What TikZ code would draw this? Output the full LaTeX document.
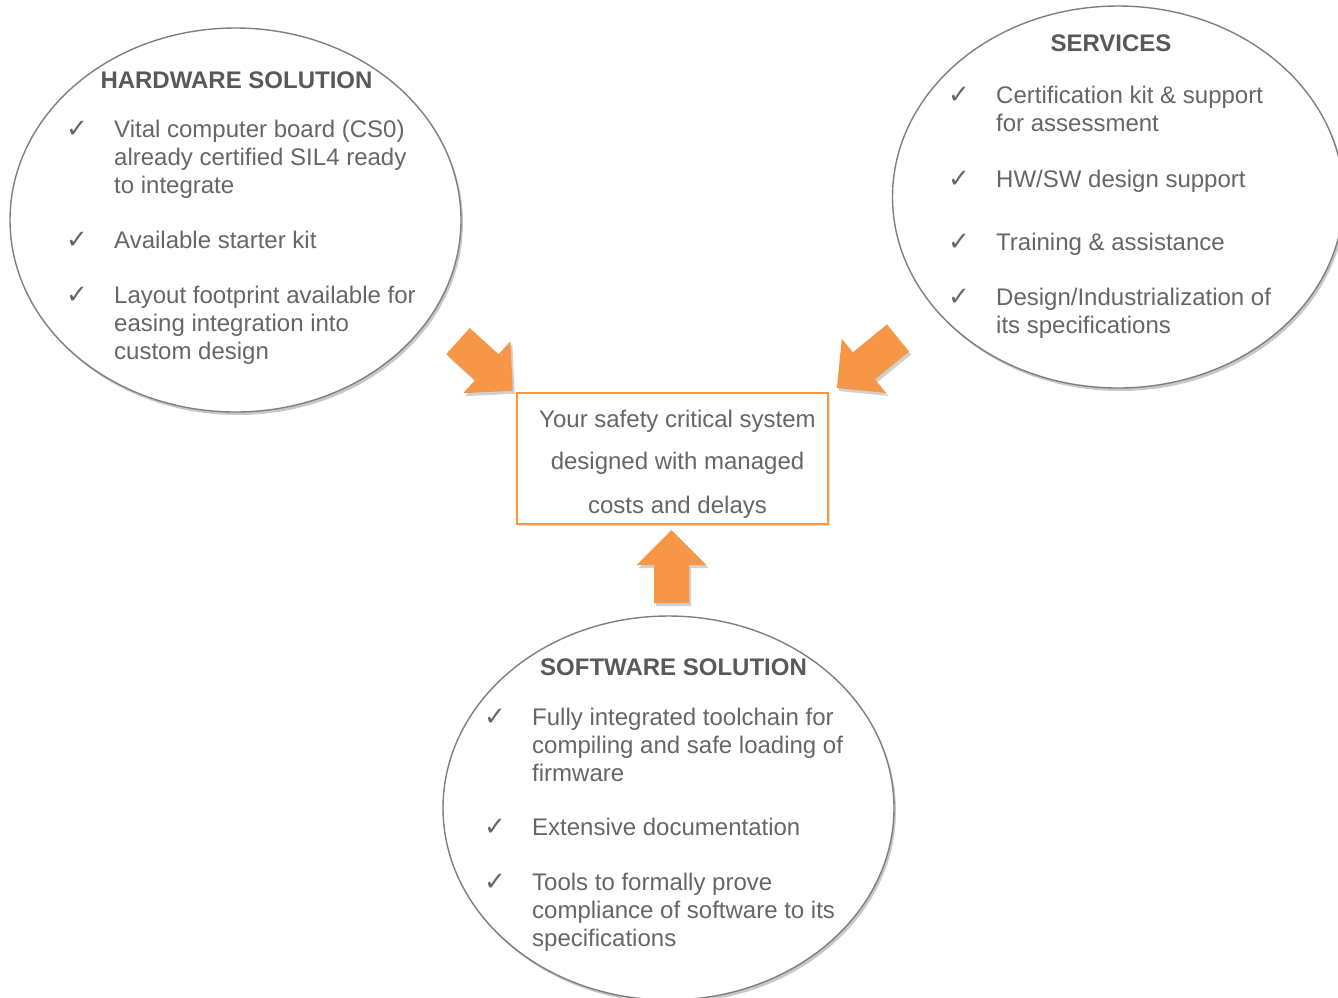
\documentclass[tikz,border=0pt]{standalone}
\usepackage{fontspec}
\setmainfont{Liberation Sans}
\newfontfamily\symfont{DejaVu Sans}
\usetikzlibrary{shapes.geometric,shadows}
\definecolor{txt}{HTML}{666666}
\definecolor{ttl}{HTML}{595959}
\definecolor{edge}{HTML}{7F7F7F}
\definecolor{orng}{HTML}{F79646}
\tikzset{
  bubble/.style={ellipse, draw=edge, line width=1.4pt, fill=white, inner sep=0pt,
    minimum width=451pt, minimum height=384pt,
    drop shadow={shadow xshift=2pt, shadow yshift=-3pt, opacity=0.3, fill=black!70}},
  ttlbox/.style={anchor=base, inner sep=0pt, font=\fontsize{24}{28}\selectfont\bfseries, text=ttl},
  tick/.style={anchor=base west, inner sep=0pt, font=\symfont\fontsize{26}{28}\selectfont, text=txt},
  item/.style={anchor=base west, inner sep=0pt, align=left, font=\fontsize{24}{28}\selectfont, text=txt},
  goalbox/.style={draw=orng, line width=2pt, fill=white, inner sep=0pt,
    minimum width=311pt, minimum height=131pt,
    drop shadow={shadow xshift=2pt, shadow yshift=-2pt, opacity=0.2, fill=black!60}},
  goaltext/.style={anchor=base, inner sep=0pt, font=\fontsize{24}{28}\selectfont, text=txt},
  blk/.style={fill=orng, drop shadow={shadow xshift=2pt, shadow yshift=-3pt, opacity=0.3, fill=black!60}},
}
\newcommand\blockarrow[3]{%
  \begin{scope}[shift={(#1)}, rotate=#2]
    \fill[blk] (0,-17.5) -- ({#3-35},-17.5) -- ({#3-35},-35) -- (#3,0)
      -- ({#3-35},35) -- ({#3-35},17.5) -- (0,17.5) -- cycle;
  \end{scope}}
\begin{document}
\begin{tikzpicture}[x=1pt,y=-1pt]
\useasboundingbox (0,0) rectangle (1338,997);
\clip (0,0) rectangle (1338,997);
\fill[white] (0,0) rectangle (1338,997);

% bubbles
\node[bubble] (hw) at (235.5,220) {};
\node[bubble, minimum height=382pt] (sv) at (1118,197) {};
\node[bubble] (sw) at (668.5,808) {};

% arrows
\coordinate (hwtail) at (458,341);
\coordinate (svtail) at (898,338);
\coordinate (swtail) at (671.5,603);
\blockarrow{hwtail}{-42.3}{74}
\blockarrow{svtail}{-140.7}{79}
\blockarrow{swtail}{90}{73}

% goal
\node[goalbox] (goal) at (672.5,458.5) {};
\node[goaltext] (g1) at (677.5,427) {Your safety critical system};
\node[goaltext] (g2) at (677.5,469) {designed with managed};
\node[goaltext] (g3) at (677.5,513) {costs and delays};

% hardware (multi-line nodes: base = baseline of last line)
\node[ttlbox] (hwt) at (236.5,88) {HARDWARE SOLUTION};
\node[tick] (hwc1) at (66,137) {✓};
\node[item] (hwi1) at (114,193) {Vital computer board (CS0)\\already certified SIL4 ready\\to integrate};
\node[tick] (hwc2) at (66,248) {✓};
\node[item] (hwi2) at (114,248) {Available starter kit};
\node[tick] (hwc3) at (66,303) {✓};
\node[item] (hwi3) at (114,359) {Layout footprint available for\\easing integration into\\custom design};

% services
\node[ttlbox] (svt) at (1111,51) {SERVICES};
\node[tick] (svc1) at (948,103) {✓};
\node[item] (svi1) at (996,131) {Certification kit \& support\\for assessment};
\node[tick] (svc2) at (948,187) {✓};
\node[item] (svi2) at (996,187) {HW/SW design support};
\node[tick] (svc3) at (948,250) {✓};
\node[item] (svi3) at (996,250) {Training \& assistance};
\node[tick] (svc4) at (948,305) {✓};
\node[item] (svi4) at (996,333) {Design/Industrialization of\\its specifications};

% software
\node[ttlbox] (swt) at (673.5,675) {SOFTWARE SOLUTION};
\node[tick] (swc1) at (484,725) {✓};
\node[item] (swi1) at (532,781) {Fully integrated toolchain for\\compiling and safe loading of\\firmware};
\node[tick] (swc2) at (484,835) {✓};
\node[item] (swi2) at (532,835) {Extensive documentation};
\node[tick] (swc3) at (484,890) {✓};
\node[item] (swi3) at (532,946) {Tools to formally prove\\compliance of software to its\\specifications};
\end{tikzpicture}
\end{document}
